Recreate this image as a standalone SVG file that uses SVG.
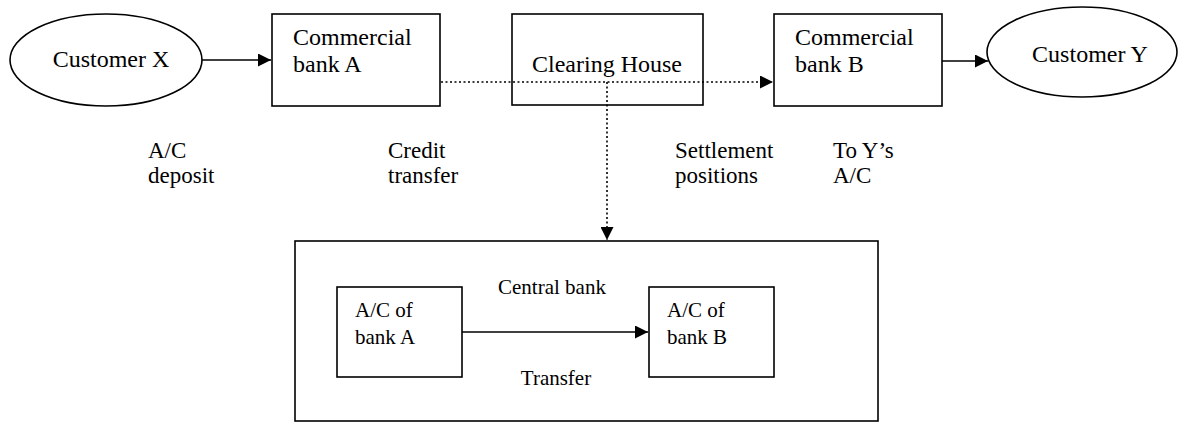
<svg xmlns="http://www.w3.org/2000/svg" width="1178" height="422" viewBox="0 0 1178 422" font-family="'Liberation Serif', 'Times New Roman', Times, serif" font-size="24">
  <style>
    .box { fill: #fff; stroke: #000; stroke-width: 1.6; }
    .open { fill: none; stroke: #000; stroke-width: 1.6; }
    .solid { stroke: #000; stroke-width: 1.6; fill: none; }
    .dot { stroke: #000; stroke-width: 1.6; fill: none; stroke-dasharray: 2 2.5; }
    .small { font-size: 21px; }
    .label { font-size: 23px; }
  </style>
  <defs>
    <marker id="arrow" viewBox="0 0 10 10" refX="10" refY="5" markerWidth="15" markerHeight="13" markerUnits="userSpaceOnUse" orient="auto">
      <path d="M0,0 L10,5 L0,10 Z" fill="#000"/>
    </marker>
  </defs>

  <!-- connectors -->
  <g id="connectors">
    <line class="solid" x1="202" y1="60" x2="271" y2="60" marker-end="url(#arrow)"/>
    <line class="dot" x1="441" y1="82" x2="773" y2="82" marker-end="url(#arrow)"/>
    <line class="dot" x1="607" y1="82" x2="607" y2="240" marker-end="url(#arrow)"/>
    <line class="solid" x1="942" y1="61" x2="988" y2="61" marker-end="url(#arrow)"/>
    <line class="solid" x1="462" y1="332" x2="648" y2="332" marker-end="url(#arrow)"/>
  </g>

  <!-- flow labels -->
  <g id="labels" class="label">
    <text x="148" y="157.5">A/C</text>
    <text x="148" y="183">deposit</text>
    <text x="388" y="157.5">Credit</text>
    <text x="388" y="183">transfer</text>
    <text x="675" y="157.5">Settlement</text>
    <text x="675" y="183">positions</text>
    <text x="833" y="157.5">To Y’s</text>
    <text x="833" y="183">A/C</text>
  </g>

  <g id="customer-x">
    <ellipse class="box" cx="106" cy="60" rx="96" ry="46"/>
    <text x="111" y="67" text-anchor="middle">Customer X</text>
  </g>

  <g id="bank-a">
    <rect class="box" x="272" y="14" width="168" height="92"/>
    <text x="293" y="45">Commercial</text>
    <text x="293" y="72">bank A</text>
  </g>

  <g id="clearing-house">
    <rect class="open" x="512" y="14" width="191" height="91"/>
    <text x="607" y="72" text-anchor="middle">Clearing House</text>
  </g>

  <g id="bank-b">
    <rect class="box" x="774" y="14" width="168" height="92"/>
    <text x="795" y="45">Commercial</text>
    <text x="795" y="72">bank B</text>
  </g>

  <g id="customer-y">
    <ellipse class="box" cx="1082" cy="52" rx="95" ry="45"/>
    <text x="1090" y="62" text-anchor="middle">Customer Y</text>
  </g>

  <g id="central-bank" class="small">
    <rect class="open" x="295" y="241" width="583" height="180"/>
    <text x="552" y="294" text-anchor="middle">Central bank</text>
    <text x="556" y="385" text-anchor="middle">Transfer</text>
  </g>

  <g id="account-a" class="small">
    <rect class="box" x="337" y="287" width="125" height="90"/>
    <text x="355" y="317">A/C of</text>
    <text x="355" y="344">bank A</text>
  </g>

  <g id="account-b" class="small">
    <rect class="box" x="649" y="287" width="125" height="90"/>
    <text x="667" y="317">A/C of</text>
    <text x="667" y="344">bank B</text>
  </g>
</svg>
